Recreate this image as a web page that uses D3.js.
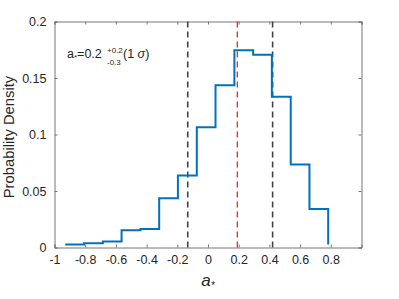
<!DOCTYPE html>
<html lang="en">
<head>
    <meta charset="UTF-8">
    <title>Probability Density of a*</title>
    <style>
        body { margin: 0; background: #fff; }
        svg text { font-family: "Liberation Sans", Arial, Helvetica, sans-serif; fill: #262626; }
    </style>
</head>
<body>
    <svg width="399" height="299"></svg>

    <script src="https://cdnjs.cloudflare.com/ajax/libs/d3/7.8.5/d3.min.js"></script>
    <script>
        // histogram bin edges (a*) and densities
        var binEdges = [-0.930, -0.808, -0.685, -0.563, -0.440, -0.318, -0.196, -0.073,
                        0.049, 0.172, 0.294, 0.416, 0.539, 0.661, 0.783];
        var density = [0.0027, 0.0038, 0.0052, 0.0152, 0.0164, 0.0436, 0.0638,
                       0.1065, 0.1435, 0.1745, 0.1705, 0.1335, 0.0735, 0.0340];
        var tailValue = 0.0027;

        // vertical dashed markers: lower 1 sigma, best value, upper 1 sigma
        var sigmaLines = [-0.132, 0.421];
        var bestLine = 0.191;

        var xTicks = [-1, -0.8, -0.6, -0.4, -0.2, 0, 0.2, 0.4, 0.6, 0.8];
        var yTicks = [0, 0.05, 0.1, 0.15, 0.2];

        var svg = d3.select('svg');
        // (note: "top" is reserved on window, so use a margin object)
        var m = { left: 54.5, right: 361.5, top: 21.5, bottom: 247.5 };

        var x = d3.scaleLinear().domain([-1, 1]).range([m.left, m.right]);
        var y = d3.scaleLinear().domain([0, 0.2]).range([m.bottom, m.top]);

        var fmt = function (d) { return d === 0 ? '0' : String(d); };

        // axes, MATLAB style: ticks inside, box on
        svg.append('g')
            .attr('transform', 'translate(0,' + m.bottom + ')')
            .call(d3.axisBottom(x).tickValues(xTicks).tickSize(-3).tickPadding(8).tickFormat(fmt))
            .call(g => g.selectAll('text').attr('font-size', 12.5).attr('dy', '0.71em'));
        svg.append('g')
            .attr('transform', 'translate(0,' + m.top + ')')
            .call(d3.axisTop(x).tickValues(xTicks.concat([1])).tickSize(-3).tickFormat(''));
        svg.append('g')
            .attr('transform', 'translate(' + m.left + ',0)')
            .call(d3.axisLeft(y).tickValues(yTicks).tickSize(-3).tickPadding(8).tickFormat(fmt))
            .call(g => g.selectAll('text').attr('font-size', 12.5));
        svg.append('g')
            .attr('transform', 'translate(' + m.right + ',0)')
            .call(d3.axisRight(y).tickValues(yTicks).tickSize(-3).tickFormat(''));

        svg.selectAll('.domain').attr('stroke', '#777').attr('stroke-width', 1);
        svg.selectAll('.tick line').attr('stroke', '#777');

        // dashed sigma lines
        svg.selectAll('.sigma')
            .data(sigmaLines)
            .enter()
            .append('line')
            .attr('class', 'sigma')
            .attr('x1', d => x(d)).attr('x2', d => x(d))
            .attr('y1', y(0.2)).attr('y2', y(0))
            .attr('stroke', '#444')
            .attr('stroke-width', 1.6)
            .attr('stroke-dasharray', '6,4');

        svg.append('line')
            .attr('x1', x(bestLine)).attr('x2', x(bestLine))
            .attr('y1', y(0.2)).attr('y2', y(0))
            .attr('stroke', '#ff1f1f')
            .attr('stroke-width', 1.3)
            .attr('stroke-dasharray', '6,4');

        // stairs histogram
        var pts = density.map((v, i) => [binEdges[i], v]);
        pts.push([binEdges[binEdges.length - 1], density[density.length - 1]]);
        pts.push([binEdges[binEdges.length - 1], tailValue]);

        var line = d3.line()
            .x(d => x(d[0]))
            .y(d => y(d[1]))
            .curve(d3.curveStepAfter);

        svg.append('path')
            .datum(pts)
            .attr('d', line)
            .attr('fill', 'none')
            .attr('stroke', '#0072bd')
            .attr('stroke-width', 2);

        // annotation a*=0.2 +0.2 -0.3 (1 sigma)
        var note = svg.append('g').attr('transform', 'translate(67,58)');
        var t1 = note.append('text').attr('font-size', 12.5);
        t1.append('tspan').text('a');
        t1.append('tspan').attr('font-size', 8).attr('dy', 2).text('*');
        t1.append('tspan').attr('dy', -2).text('=0.2');
        note.append('text').attr('x', 40).attr('y', -5).attr('font-size', 8).text('+0.2');
        note.append('text').attr('x', 40).attr('y', 7).attr('font-size', 8).text('-0.3');
        var t2 = note.append('text').attr('x', 56).attr('font-size', 12.5);
        t2.append('tspan').text('(1 ');
        t2.append('tspan').attr('font-style', 'italic').text('σ');
        t2.append('tspan').text(')');

        // axis labels
        svg.append('text')
            .attr('transform', 'translate(14,137) rotate(-90)')
            .attr('text-anchor', 'middle')
            .attr('font-size', 14.8)
            .text('Probability Density');

        var xl = svg.append('text')
            .attr('x', 208)
            .attr('y', 286)
            .attr('text-anchor', 'middle')
            .attr('font-size', 17)
            .attr('font-style', 'italic');
        xl.append('tspan').text('a');
        xl.append('tspan').attr('font-size', 10).attr('dy', 3).text('*');
    </script>
</body>
</html>
